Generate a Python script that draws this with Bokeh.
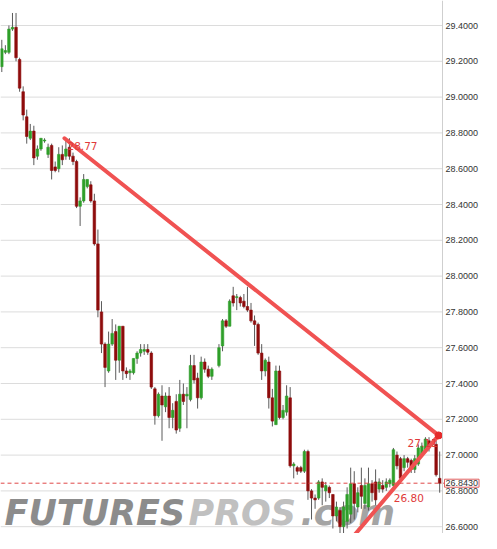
import numpy as np
from bokeh.plotting import figure
from bokeh.models import ColumnDataSource, Range1d, Span, Label
from bokeh.embed import file_html
from bokeh.resources import INLINE
from bokeh.core.properties import value

nan = float("nan")

# ---- data ----
opens = [29.17, 29.25, 29.25, 29.38, 29.39, 29.21, 29.03, 28.89, 28.77, 28.81,
         28.67, 28.71, 28.755, 28.68, 28.73, 28.61, 28.60, 28.68, 28.67, 28.72,
         28.67, 28.64, 28.39, 28.42, 28.50, 28.51, 28.42, 28.18, 27.80, 27.62,
         27.47, 27.62, 27.69, 27.53, 27.72, 27.47, 27.46, 27.46, 27.54, 27.57,
         27.58, 27.59, 27.57, 27.37, 27.22, 27.33, 27.27, 27.33, 27.21, 27.30,
         27.15, 27.34, 27.33, 27.31, 27.50, 27.43, 27.32, 27.52, 27.48, 27.44,
         nan, 27.50, 27.61, 27.75, 27.72, 27.89, 27.88, 27.88, 27.86, 27.83,
         27.81, 27.75, 27.73, 27.57, 27.47, 27.52, 27.32, 27.17, 27.47, 27.21,
         27.24, 27.32, 26.94, 26.93, 26.93, 26.91, 27.02, 26.80, 26.76, 26.76,
         26.85, 26.80, 26.82, 26.78, 26.66, 26.69, 26.60, 26.63, 26.67, 26.84,
         26.71, 26.83, 26.73, 26.71, 26.84, 26.85, 26.81, 26.83, 26.82, 26.84,
         26.83, 27.00, 26.98, 26.93, 26.98, 26.97, 26.92, 26.95, 27.00, 27.03,
         27.08, 27.07, 27.06, 26.87]
highs = [29.32, 29.29, 29.40, 29.47, 29.47, 29.22, 29.06, 28.93, 28.85, 28.84,
         28.73, 28.77, 28.77, 28.74, 28.74, 28.64, 28.72, 28.73, 28.77, 28.77,
         28.69, 28.65, 28.44, 28.57, 28.54, 28.53, 28.46, 28.26, 27.86, 27.63,
         27.69, 27.76, 27.73, 27.72, 27.72, 27.49, 27.48, 27.54, 27.58, 27.62,
         27.62, 27.62, 27.58, 27.38, 27.35, 27.39, 27.35, 27.38, 27.29, 27.34,
         27.42, 27.40, 27.38, 27.56, 27.56, 27.46, 27.55, 27.54, 27.50, 27.49,
         nan, 27.62, 27.76, 27.76, 27.87, 27.94, 27.90, 27.89, 27.90, 27.94,
         27.85, 27.78, 27.74, 27.62, 27.54, 27.55, 27.37, 27.50, 27.50, 27.28,
         27.39, 27.38, 26.96, 26.94, 26.94, 27.03, 27.03, 26.81, 26.78, 26.86,
         26.87, 26.85, 26.83, 26.78, 26.74, 26.71, 26.74, 26.82, 26.93, 26.91,
         26.82, 26.93, 26.87, 26.93, 26.86, 26.92, 26.87, 26.86, 26.87, 26.87,
         27.04, 27.02, 26.99, 27.00, 26.99, 26.98, 27.00, 27.06, 27.07, 27.10,
         27.10, 27.09, 27.08, 27.02]
lows = [29.14, 29.24, 29.24, 29.37, 29.20, 29.03, 28.87, 28.74, 28.76, 28.62,
        28.65, 28.70, 28.745, 28.66, 28.54, 28.58, 28.58, 28.62, 28.65, 28.65,
        28.62, 28.38, 28.28, 28.41, 28.49, 28.41, 28.17, 27.77, 27.57, 27.38,
        27.46, 27.61, 27.42, 27.46, 27.42, 27.43, 27.42, 27.45, 27.51, 27.55,
        27.56, 27.56, 27.37, 27.17, 27.21, 27.08, 27.24, 27.15, 27.15, 27.12,
        27.13, 27.28, 27.15, 27.30, 27.40, 27.26, 27.31, 27.46, 27.43, 27.42,
        nan, 27.49, 27.58, 27.71, 27.72, 27.83, 27.81, 27.83, 27.82, 27.80,
        27.74, 27.61, 27.56, 27.42, 27.44, 27.26, 27.16, 27.17, 27.20, 27.20,
        27.22, 26.93, 26.87, 26.89, 26.90, 26.90, 26.75, 26.64, 26.70, 26.75,
        26.72, 26.74, 26.76, 26.59, 26.63, 26.55, 26.55, 26.59, 26.62, 26.64,
        26.68, 26.70, 26.70, 26.69, 26.74, 26.72, 26.79, 26.79, 26.80, 26.82,
        26.82, 26.92, 26.84, 26.91, 26.93, 26.90, 26.90, 26.94, 26.99, 27.02,
        27.02, 27.05, 26.88, 26.79]
closes = [29.27, 29.26, 29.38, 29.39, 29.22, 29.05, 28.90, 28.78, 28.81, 28.66,
          28.71, 28.77, 28.76, 28.72, 28.59, 28.59, 28.68, 28.65, 28.71, 28.67,
          28.64, 28.39, 28.42, 28.54, 28.54, 28.42, 28.18, 27.81, 27.62, 27.49,
          27.62, 27.68, 27.53, 27.72, 27.47, 27.455, 27.47, 27.54, 27.57, 27.59,
          27.59, 27.575, 27.38, 27.22, 27.34, 27.28, 27.33, 27.21, 27.25, 27.14,
          27.34, 27.30, 27.34, 27.50, 27.42, 27.32, 27.52, 27.48, 27.44, 27.48,
          nan, 27.60, 27.75, 27.72, 27.86, 27.85, 27.885, 27.85, 27.83, 27.81,
          27.75, 27.73, 27.57, 27.47, 27.53, 27.32, 27.19, 27.47, 27.21, 27.25,
          27.33, 26.94, 26.95, 26.91, 26.91, 27.02, 26.80, 26.76, 26.75, 26.85,
          26.82, 26.83, 26.79, 26.66, 26.71, 26.60, 26.71, 26.78, 26.84, 26.73,
          26.79, 26.77, 26.83, 26.84, 26.79, 26.75, 26.85, 26.81, 26.85, 26.86,
          27.03, 26.94, 26.87, 26.98, 26.96, 26.92, 26.98, 27.04, 27.05, 27.09,
          27.04, 27.06, 26.89, 26.843]
last_price = 26.843
upper_trend_x = [17.6, 122.7]
upper_trend_y = [28.77, 27.11]
lower_trend_x = [98.5, 122.7]
lower_trend_y = [26.54, 27.11]
lower_label_value = 26.80
price_ticks = [26.6, 26.8, 27.0, 27.2, 27.4, 27.6, 27.8, 28.0, 28.2, 28.4,
               28.6, 28.8, 29.0, 29.2, 29.4]
watermark_words = ["FUTURES", "PROS", ".com"]

# ---- layout constants (pixels) ----
FIG_W, FIG_H = 481, 533
FIRST_PX = 1.3      # x pixel of first candle
STEP_PX = 3.56      # pixels per candle
TOP_TICK_PX = 25    # y pixel of the 29.4 grid line
PX_PER_UNIT = 179.0
AXIS_PX = 442       # price axis line

def px_to_x(px):
    return (px - FIRST_PX) / STEP_PX

def px_to_y(py):
    return price_ticks[-1] - (py - TOP_TICK_PX) / PX_PER_UNIT

x_start, x_end = px_to_x(0), px_to_x(FIG_W)
y_end, y_start = px_to_y(0), px_to_y(FIG_H)
axis_x = px_to_x(AXIS_PX)

o = np.array(opens, float); h = np.array(highs, float)
l = np.array(lows, float); c = np.array(closes, float)
idx = np.arange(len(o))
up = c >= o
GREEN, RED = "#2f9f2a", "#8e0c0c"
src = ColumnDataSource(dict(
    x=idx, high=h, low=l,
    top=np.maximum(o, c), bottom=np.minimum(o, c),
    color=[GREEN if u else RED for u in up],
))

p = figure(width=FIG_W, height=FIG_H,
           x_range=Range1d(x_start, x_end), y_range=Range1d(y_start, y_end),
           x_axis_location=None, y_axis_location=None,
           output_backend="svg", toolbar_location=None, min_border=0)
p.xgrid.visible = False
p.ygrid.visible = False
p.outline_line_color = None
p.background_fill_color = "white"
p.border_fill_color = "white"

# watermark (behind everything)
wm = ColumnDataSource(dict(
    x=[px_to_x(4), px_to_x(188), px_to_x(300)],
    y=[px_to_y(512)] * 3,
    text=watermark_words,
    color=["#8c8c8c", "#c0c0c0", "#a4a4a4"],
))
p.text(x="x", y="y", text="text", source=wm, text_color="color",
       text_font=value("DejaVu Sans"), text_font_style="bold italic",
       text_font_size="35px", text_baseline="alphabetic", text_align="left")

# price grid and price scale (drawn through the data scales)
ticks = np.array(price_ticks)
p.segment(x0=x_start, y0=ticks, x1=axis_x, y1=ticks, line_color="#dcdcdc", line_width=1)
p.add_layout(Span(location=axis_x, dimension="height", line_color="#cfcfcf", line_width=1))
p.text(x=[px_to_x(AXIS_PX + 3)] * len(ticks), y=ticks, text=["%.4f" % t for t in ticks],
       text_align="left", text_baseline="middle", text_color="#333333",
       text_font=value("Liberation Sans"), text_font_size="9px")

# candles
p.segment(x0="x", y0="high", x1="x", y1="low", source=src, line_color="#5a5a5a", line_width=1)
p.vbar(x="x", width=0.72, top="top", bottom="bottom", source=src,
       fill_color="color", line_color="color", line_width=0.6)

# last price line
p.segment(x0=[x_start], y0=[last_price], x1=[axis_x], y1=[last_price],
          line_color="#e04848", line_dash="4 3", line_width=1)
p.segment(x0=[axis_x], y0=[last_price], x1=[px_to_x(AXIS_PX + 2)], y1=[last_price],
          line_color="#e06060", line_width=1)

# trend lines
TREND = "#f05252"
p.line(upper_trend_x, upper_trend_y, line_width=4, line_color=TREND, line_cap="round")
p.line(lower_trend_x, lower_trend_y, line_width=4, line_color=TREND, line_cap="round")
p.scatter([upper_trend_x[1]], [upper_trend_y[1]], size=7, color="#e52a2a")

low_lab_x = float(np.interp(lower_label_value, lower_trend_y, lower_trend_x))
labs = ColumnDataSource(dict(
    x=[upper_trend_x[0], upper_trend_x[1], low_lab_x],
    y=[upper_trend_y[0], upper_trend_y[1], lower_label_value],
    text=["%.2f" % upper_trend_y[0], "%.2f" % upper_trend_y[1], "%.2f" % lower_label_value],
    align=["left", "right", "left"],
    xo=[3, -1, 2], yo=[8, 8, 7],
))
p.text(x="x", y="y", text="text", source=labs, text_align="align",
       x_offset="xo", y_offset="yo", text_baseline="middle",
       text_color="#e03a3a", text_font=value("DejaVu Sans"), text_font_size="10.5px")

p.add_layout(Label(x=px_to_x(AXIS_PX + 2), y=last_price, text="%.4f" % last_price,
                   text_baseline="middle", text_align="left",
                   text_font="Liberation Sans", text_font_size="9px",
                   text_color="#333333", border_line_color="#e06060",
                   background_fill_color="white", padding=1))

open("out.html", "w").write(file_html(p, INLINE))
